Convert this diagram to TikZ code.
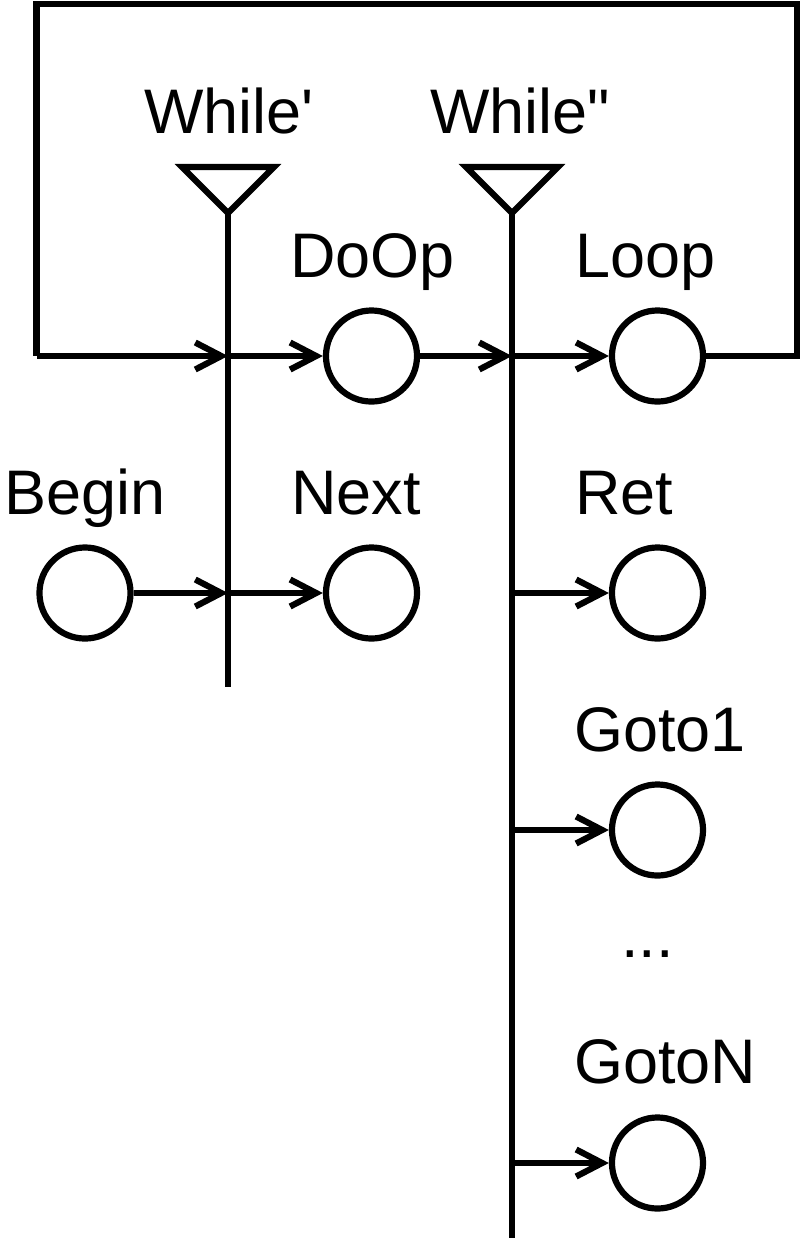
\documentclass[tikz,border=0pt]{standalone}
\usepackage{fontspec}
\setmainfont{Liberation Sans}
\usetikzlibrary{arrows.meta, calc, positioning}

\begin{document}
\begin{tikzpicture}[
  x=0.01cm, y=-0.01cm,
  line width=0.62mm,
  place/.style={draw, circle, minimum size=0.91cm, inner sep=0pt},
  lbl/.style={anchor=base west, inner sep=0pt, font=\fontsize{17.9pt}{20pt}\selectfont},
  bar/.style={line width=0.67mm},
  arr/.style={-{Straight Barb[length=0.26cm, width=0.27cm]}}
]
  \useasboundingbox (0,0) rectangle (800,1238);

  % places
  \node[place] (doop)  at (371.5,356)  {};
  \node[place] (loop)  at (657.5,356)  {};
  \node[place] (begin) at (85,593)     {};
  \node[place] (next)  at (371.5,593)  {};
  \node[place] (ret)   at (657.5,593)  {};
  \node[place] (goto1) at (657.5,830)  {};
  \node[place] (gotoN) at (657.5,1163) {};

  % transitions
  \coordinate (w1top) at (228,213);
  \coordinate (w1bot) at (228,687);
  \coordinate (w2top) at (512,213);
  \coordinate (w2bot) at (512,1238);
  \draw[bar] (w1top) -- (w1bot);
  \draw[bar] (w2top) -- (w2bot);
  \draw (w1top) -- ++(-46,-46) -- ++(92,0) -- cycle;
  \draw (w2top) -- ++(-46,-46) -- ++(92,0) -- cycle;

  % labels
  \node[lbl] (lwhile1) at (141,133)  {While\textquotesingle};
  \node[lbl] (lwhile2) at (427,133)  {While\textquotedbl};
  \node[lbl] (ldoop)   at (287,277)  {DoOp};
  \node[lbl] (lloop)   at (572,277)  {Loop};
  \node[lbl] (lbegin)  at (1,514)    {Begin};
  \node[lbl] (lnext)   at (288,514)  {Next};
  \node[lbl] (lret)    at (572,514)  {Ret};
  \node[lbl] (lgoto1)  at (571,751)  {Goto1};
  \node[lbl] (ldots)   at (618,957)  {...};
  \node[lbl] (lgotoN)  at (571,1083) {GotoN};

  % arcs
  \coordinate (back) at (36.5,4);
  \draw (loop.east) -- (797,356) -- (797,4) -- (back) -- (back |- doop);
  \draw[arr] (back |- doop) -- (w1top |- doop);
  \draw[arr] (w1top |- doop) -- (doop);
  \draw[arr] (doop) -- (w2top |- doop);
  \draw[arr] (w2top |- loop) -- (loop);
  \draw[arr] (begin) -- (w1top |- begin);
  \draw[arr] (w1top |- next) -- (next);
  \draw[arr] (w2top |- ret) -- (ret);
  \draw[arr] (w2top |- goto1) -- (goto1);
  \draw[arr] (w2top |- gotoN) -- (gotoN);
\end{tikzpicture}
\end{document}
